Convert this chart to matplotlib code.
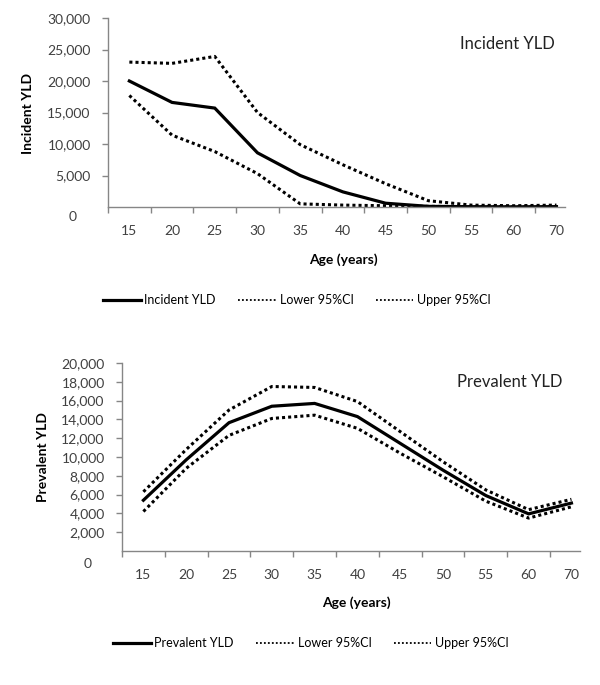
import numpy as np
import matplotlib
matplotlib.use("Agg")
import matplotlib.pyplot as plt
from matplotlib.ticker import FuncFormatter
from matplotlib.lines import Line2D

plt.rcParams['font.family'] = ['Lato', 'DejaVu Sans']

ages = ['15', '20', '25', '30', '35', '40', '45', '50', '55', '60', '70']

inc_yld = [20000, 16600, 15700, 8600, 5000, 2400, 600, 100, 50, 30, 60]
inc_lower = [17700, 11400, 8800, 5300, 500, 300, 200, 100, 50, 30, 60]
inc_upper = [23000, 22800, 23900, 15000, 9900, 6700, 3700, 1000, 300, 200, 300]

prev_yld = [5400, 9700, 13650, 15400, 15700, 14300, 11450, 8600, 5900, 3950, 5100]
prev_lower = [4200, 8800, 12300, 14100, 14450, 13050, 10400, 7900, 5300, 3500, 4700]
prev_upper = [6300, 10800, 15000, 17500, 17400, 15900, 12700, 9500, 6500, 4400, 5500]

W, H = 600, 685
fig = plt.figure(figsize=(W / 100, H / 100), dpi=100)

gray = '#868686'
tick_col = '#404040'


def px(x, y):
    return x / W, 1 - y / H


def panel(box, name, ylab, vals, lo, hi, ymax, ystep, title_xy, ylab_xy, age_xy, leg_xy, zero_off):
    l, t, r, b = box
    ax = fig.add_axes([l / W, 1 - b / H, (r - l) / W, (b - t) / H])
    x = np.arange(len(ages))
    ax.plot(x, vals, color='black', lw=2.3, solid_joinstyle='miter')
    ax.plot(x, lo, color='black', lw=2.2, ls=(0, (1, 1)))
    ax.plot(x, hi, color='black', lw=2.2, ls=(0, (1, 1)))

    ax.set_xlim(-0.5, len(ages) - 0.8)
    ax.set_ylim(0, ymax)
    ax.set_xticks(np.arange(-0.5, len(ages) - 1, 1))
    ax.set_xticklabels([])
    ax.set_xticks(x, minor=True)
    ax.set_xticklabels(ages, minor=True)
    ax.tick_params(axis='x', which='major', direction='out', length=4, color=gray, width=1)
    ax.tick_params(axis='x', which='minor', length=0, pad=13, labelsize=10, labelcolor=tick_col)

    yt = np.arange(ystep, ymax + 1, ystep)
    ax.set_yticks(yt)
    ax.yaxis.set_major_formatter(FuncFormatter(lambda v, p: f'{int(v):,}'))
    ax.tick_params(axis='y', direction='out', length=4.5, color=gray, width=1, pad=8,
                   labelsize=10, labelcolor=tick_col)
    # Excel puts the zero label offset below-left of the axis
    ax.annotate('0', xy=(0, 0), xycoords=('axes fraction', 'data'),
                xytext=(zero_off[0] * 0.72, zero_off[1] * 0.72), textcoords='offset points',
                ha='right', va='center', fontsize=10, color=tick_col)

    for s in ['top', 'right']:
        ax.spines[s].set_visible(False)
    for s in ['left', 'bottom']:
        ax.spines[s].set_color(gray)
        ax.spines[s].set_linewidth(1)

    fig.text(*px(*title_xy), name, ha='center', va='center', fontsize=12, color='#222222')
    fig.text(*px(*ylab_xy), ylab, ha='center', va='center', rotation=90,
             fontsize=10, fontweight='bold', color='black')
    fig.text(*px(*age_xy), 'Age (years)', ha='center', va='center',
             fontsize=10, fontweight='bold', color='black')

    handles = [Line2D([], [], color='black', lw=2.3),
               Line2D([], [], color='black', lw=1.3, ls=(0, (1, 1.2))),
               Line2D([], [], color='black', lw=1.3, ls=(0, (1, 1.2)))]
    fig.legend(handles, [name, 'Lower 95%CI', 'Upper 95%CI'], loc='center',
               bbox_to_anchor=px(*leg_xy), ncol=3, frameon=False, fontsize=9,
               handlelength=3.0, handletextpad=0.3, columnspacing=1.8)
    return ax


panel((108, 18, 565, 207), 'Incident YLD', 'Incident YLD', inc_yld, inc_lower, inc_upper,
      30000, 5000, (507, 44), (28, 113), (343, 260), (297, 300), (-31, -10))
panel((122, 363, 580, 551), 'Prevalent YLD', 'Prevalent YLD', prev_yld, prev_lower, prev_upper,
      20000, 2000, (510, 382), (43, 457), (356, 603), (311, 643), (-30, -13))

fig.savefig('out.png', dpi=100)
